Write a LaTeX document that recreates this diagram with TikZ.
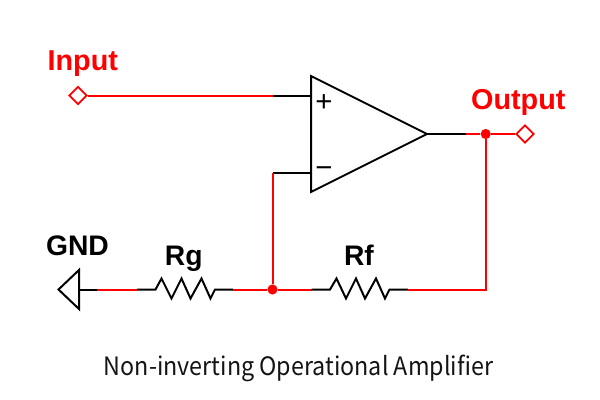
\documentclass[tikz,border=0pt]{standalone}
\usepackage{fontspec}
\usetikzlibrary{shapes.geometric}
\setmainfont{Liberation Sans}
\newfontfamily\titlefont[FakeStretch=0.92]{Noto Sans CJK SC}
\definecolor{wirered}{RGB}{255,0,0}
\definecolor{captiongray}{RGB}{20,20,20}
\begin{document}
\begin{tikzpicture}[x=0.75pt,y=-0.75pt]
\tikzstyle{wire}=[line width=1.5pt,black,line join=miter]
\tikzstyle{redwire}=[line width=1.5pt,wirered]
\tikzstyle{port}=[draw=wirered,line width=1.3pt,fill=white,shape=diamond,aspect=1,inner sep=0pt,minimum size=13.5pt]
\tikzstyle{junction}=[fill=wirered,shape=circle,inner sep=0pt,minimum size=7.6pt]
\tikzstyle{redlabel}=[text=wirered,font=\fontsize{21.6pt}{22pt}\selectfont\bfseries,anchor=base]
\tikzstyle{blacklabel}=[font=\fontsize{21.2pt}{22pt}\selectfont\bfseries,anchor=base]
\tikzstyle{pinmark}=[font=\fontsize{22pt}{22pt}\selectfont,inner sep=0pt]
\useasboundingbox (0,0) rectangle (600,400);
% op amp
\coordinate (oatop) at (311,76);
\coordinate (oabot) at (311,192);
\coordinate (oatip) at (427,134);
\draw[wire] (oatop) -- (oatip) -- (oabot) -- cycle;
\coordinate (plusin) at (311,95.5);
\coordinate (minusin) at (311,173);
\node[pinmark] (plus) at (324,103) {+};
\node[pinmark] (minus) at (324,172) {−};
% input
\node[port] (inport) at (78,95.5) {};
\coordinate (inbend) at (273,95.5);
\draw[redwire] (inport) -- (inbend);
\draw[wire] (inbend) -- (plusin);
\node[redlabel] (inlabel) at (82.8,70.7) {Input};
% output
\node[port] (outport) at (525,134) {};
\node[junction] (outdot) at (485.7,134) {};
\coordinate (outbend) at (466,134);
\coordinate (outcorner) at (485.7,289.5);
\draw[wire] (oatip) -- (outbend);
\draw[redwire] (outbend) -- (outdot) -- (outport);
\node[redlabel] (outlabel) at (518.3,109.3) {Output};
% feedback
\node[junction] (fbdot) at (272.5,289.5) {};
\coordinate (fbcorner) at (272.5,173);
\draw[wire] (minusin) -- (fbcorner);
\draw[redwire] (fbcorner) -- (fbdot);
% gnd
\coordinate (gndtip) at (58.5,289.5);
\coordinate (gndtop) at (79,270);
\coordinate (gndbot) at (79,309);
\coordinate (gndpin) at (79,289.5);
\coordinate (gndend) at (97,289.5);
\draw[wire] (gndtop) -- (gndtip) -- (gndbot) -- cycle;
\draw[wire] (gndpin) -- (gndend);
\node[blacklabel] (gndlabel) at (77.5,255.7) {GND};
% Rg
\coordinate (rgin) at (137,289.5);
\coordinate (rgout) at (233,289.5);
\draw[redwire] (gndend) -- (rgin);
\draw[wire] (rgin) -- ++(18.5,0) -- ++(6,-11) -- ++(10,20) -- ++(10,-20) -- ++(9,20) -- ++(11,-20) -- ++(9,20) -- ++(4.5,-9) -- (rgout);
\draw[redwire] (rgout) -- (fbdot);
\node[blacklabel] (rglabel) at (183.7,265) {Rg};
% Rf
\coordinate (rfin) at (311.5,289.5);
\coordinate (rfout) at (408,289.5);
\draw[redwire] (fbdot) -- (rfin);
\draw[wire] (rfin) -- ++(18.5,0) -- ++(6.5,-11) -- ++(9.5,20) -- ++(10,-20) -- ++(9,20) -- ++(11,-20) -- ++(9,20) -- ++(4.5,-9) -- (rfout);
\draw[redwire] (rfout) -- (outcorner) -- (outdot);
\node[blacklabel] (rflabel) at (359,265) {Rf};
% caption
\node[anchor=base,text=captiongray,font=\titlefont\fontsize{19pt}{19pt}\selectfont] (caption) at (298.5,375) {Non-inverting Operational Amplifier};
\end{tikzpicture}
\end{document}
